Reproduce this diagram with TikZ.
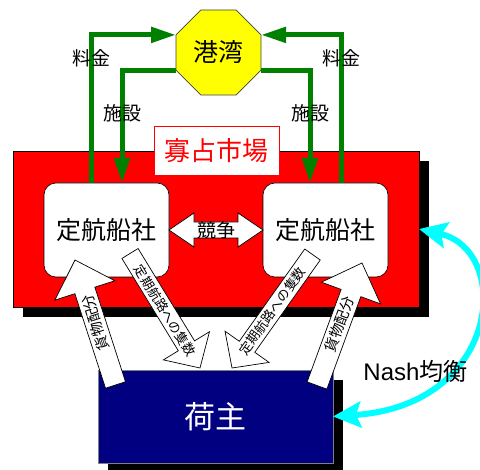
\documentclass[tikz,border=0pt]{standalone}
\usepackage{fontspec}
\setmainfont{Liberation Sans}
\newfontfamily\cjk{Noto Sans CJK JP}
\usetikzlibrary{shapes.geometric,arrows.meta,calc,shadows}
\definecolor{mgreen}{RGB}{0,128,0}
\definecolor{mnavy}{RGB}{0,0,128}
\definecolor{mcyan}{RGB}{0,255,255}
\definecolor{myellow}{RGB}{255,255,0}
\definecolor{mred}{RGB}{255,0,0}
\newcommand\blockarrow[7]{%
  \path ($(#2)!#5!(#1)$) coordinate (bab);
  \draw[blk] ($(#1)!#3!90:(#2)$) -- ($(bab)!#3!90:(#2)$) -- ($(bab)!#4!90:(#2)$) -- (#2)
    -- ($(bab)!#4!-90:(#2)$) -- ($(bab)!#3!-90:(#2)$) -- ($(#1)!#3!-90:(#2)$) -- cycle;
  \path (#1) -- (#2) node[midway, sloped, inner sep=0pt, #6] {#7};
}
\begin{document}
\begin{tikzpicture}[x=1pt,y=-1pt,outer sep=0pt,
  shipbox/.style={draw=black, line width=0.6pt, fill=white, rounded corners=12pt,
    minimum width=125pt, minimum height=94pt, inner sep=0pt, font=\cjk\fontsize{25}{30}\selectfont},
  grnline/.style={draw=mgreen, line width=5pt, -{Triangle[length=25pt,width=15pt]}},
  lbl/.style={font=\cjk\fontsize{19}{22}\selectfont, inner sep=0pt},
  blk/.style={draw=black, line width=0.7pt, fill=white, line join=miter},
  arrtxt/.style={font=\cjk\fontsize{14.5}{16}\selectfont},
  shiptxt/.style={font=\cjk\fontsize{13}{15}\selectfont},
  nasharrow/.style={draw=mcyan, line width=6pt,
    {Stealth[length=28pt,width=26pt,inset=5pt]}-{Stealth[length=28pt,width=26pt,inset=5pt]}}
]
\useasboundingbox (0,0) rectangle (480,470);
\fill[white] (0,0) rectangle (480,470);

% oligopoly market
\node[draw=black, line width=0.6pt, fill=mred, minimum width=406pt, minimum height=156pt,
  drop shadow={shadow xshift=10pt, shadow yshift=-10pt, fill=black, opacity=1}] (market) at (216,229) {};

% port
\node[regular polygon, regular polygon sides=8, minimum size=92pt, draw=black!75, line width=0.6pt,
  fill=myellow, inner sep=0pt, font=\cjk\fontsize{25}{30}\selectfont] (port) at (218.5,52.5) {港湾};

% shipping companies
\node[shipbox] (lship) at (106.5,230) {定航船社};
\node[shipbox] (rship) at (325.5,230) {定航船社};

% market label
\node[draw=mred, line width=0.6pt, fill=white, text=mred, minimum width=125pt, minimum height=49pt,
  inner sep=0pt, font=\cjk\fontsize{26}{30}\selectfont] (mlabel) at (216.5,150.5) {寡占市場};

% green connectors
\draw[grnline] ($(lship.north west)+(47,0)$) |- ($(port.west)+(0,-17.6)$);
\draw[grnline] ($(port.west)+(0,17.6)$) -| ($(lship.north west)+(78,0)$);
\draw[grnline] ($(rship.north west)+(78,0)$) |- ($(port.east)+(0,-17.6)$);
\draw[grnline] ($(port.east)+(0,17.6)$) -| ($(rship.north west)+(47,0)$);
\node[lbl] (fee1) at (91,58) {料金};
\node[lbl] (fee2) at (341,58) {料金};
\node[lbl] (fac1) at (122,113) {施設};
\node[lbl] (fac2) at (310,113) {施設};

% competition double arrow
\draw[blk] (lship.east) -- ($(lship.east)+(25,-17)$) -- ($(lship.east)+(25,-8)$)
  -- ($(rship.west)+(-25,-8)$) -- ($(rship.west)+(-25,-17)$) -- (rship.west)
  -- ($(rship.west)+(-25,17)$) -- ($(rship.west)+(-25,8)$) -- ($(lship.east)+(25,8)$)
  -- ($(lship.east)+(25,17)$) -- cycle;
\node[font=\cjk\fontsize{19}{22}\selectfont, inner sep=0pt] (comp) at ($(lship.east)!0.5!(rship.west)$) {競争};

% shipper
\node[draw=black!50, line width=0.6pt, fill=mnavy, minimum width=235pt, minimum height=93pt,
  text=white, inner sep=0pt, font=\cjk\fontsize{31}{36}\selectfont,
  drop shadow={shadow xshift=10pt, shadow yshift=-10pt, fill=black, opacity=1}] (shipper) at (215.5,416.5) {荷主};

% block arrows
\coordinate (aS) at (115.5,385);
\coordinate (aT) at (75,260);
\coordinate (bS) at (130,253.5);
\coordinate (bT) at (200,368);
\coordinate (cS) at (312.5,254.5);
\coordinate (cT) at (232,368);
\coordinate (dS) at (317,385.5);
\coordinate (dT) at (362,263);
\blockarrow{aS}{aT}{10.5pt}{31.5pt}{32pt}{arrtxt, allow upside down, name=ta}{貨物配分}
\blockarrow{bS}{bT}{9.5pt}{27pt}{26pt}{shiptxt, name=tb}{定期航路への隻数}
\blockarrow{cS}{cT}{9.5pt}{27pt}{26pt}{shiptxt, name=tc}{定期航路への隻数}
\blockarrow{dS}{dT}{10.5pt}{31.5pt}{32pt}{arrtxt, name=td}{貨物配分}

% Nash equilibrium
\draw[nasharrow] (market.east) .. controls (512,250) and (502,405) .. (shipper.east);
\node[font=\fontsize{24}{28}\selectfont, inner sep=0pt] (nash) at (415.5,371) {Nash{\cjk 均衡}};
\end{tikzpicture}
\end{document}
